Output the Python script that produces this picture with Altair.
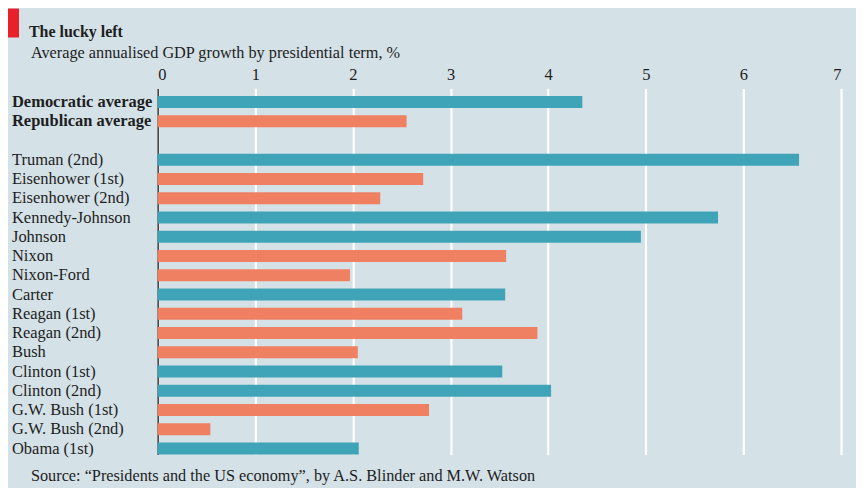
import altair as alt
import pandas as pd

title_text = "The lucky left"
subtitle_text = "Average annualised GDP growth by presidential term, %"
source_text = "Source: \u201cPresidents and the US economy\u201d, by A.S. Blinder and M.W. Watson"

categories = ["Democratic average", "Republican average", "Truman (2nd)", "Eisenhower (1st)",
              "Eisenhower (2nd)", "Kennedy-Johnson", "Johnson", "Nixon", "Nixon-Ford", "Carter",
              "Reagan (1st)", "Reagan (2nd)", "Bush", "Clinton (1st)", "Clinton (2nd)",
              "G.W. Bush (1st)", "G.W. Bush (2nd)", "Obama (1st)"]
growth = [4.35, 2.55, 6.57, 2.72, 2.28, 5.74, 4.95, 3.57, 1.97, 3.56, 3.12, 3.89, 2.05,
          3.53, 4.03, 2.78, 0.54, 2.06]
party = ["D", "R", "D", "R", "R", "D", "D", "R", "R", "D", "R", "R", "R", "D", "D", "R", "R", "D"]
ticks = [0, 1, 2, 3, 4, 5, 6, 7]

order = categories[:2] + [" "] + categories[2:]
is_avg = [True, True] + [False] * (len(categories) - 2)

df = pd.DataFrame({"name": categories, "growth": growth, "party": party, "avg": is_avg})

FONT = "Liberation Serif"
TEAL = "#40a4b8"
SALMON = "#f08062"
BG = "#d4e1e7"
INK = "#1e1e1e"

yscale = alt.Scale(domain=order, paddingInner=0.38, paddingOuter=0.2, align=1)

bars = alt.Chart(df).mark_bar().encode(
    x=alt.X("growth:Q", scale=alt.Scale(domain=[0, 7], nice=False),
            axis=alt.Axis(orient="top", values=ticks, title=None, labelFont=FONT,
                          labelFontSize=16.5, labelColor=INK, labelPadding=6,
                          domain=False, ticks=False, grid=True, gridColor="white",
                          gridWidth=2.2)),
    y=alt.Y("name:N", scale=yscale,
            axis=alt.Axis(labels=False, ticks=False, title=None, grid=False,
                          domain=True, domainColor="#333333", domainWidth=1.5)),
    color=alt.Color("party:N", scale=alt.Scale(domain=["D", "R"], range=[TEAL, SALMON]),
                    legend=None),
)

labels_bold = alt.Chart(df).transform_filter("datum.avg").mark_text(
    align="left", baseline="middle", font=FONT, fontSize=16.5, fontWeight="bold",
    color=INK).encode(
    x=alt.value(-146),
    y=alt.Y("name:N", scale=yscale),
    text="name:N",
)

labels_norm = alt.Chart(df).transform_filter("!datum.avg").mark_text(
    align="left", baseline="middle", font=FONT, fontSize=16.5, color=INK).encode(
    x=alt.value(-146),
    y=alt.Y("name:N", scale=yscale),
    text="name:N",
)

tdf = pd.DataFrame({"t": [title_text]})
title = alt.Chart(tdf).mark_text(align="left", baseline="alphabetic", font=FONT,
                                 fontSize=16, fontWeight="bold", color=INK).encode(
    x=alt.value(-129), y=alt.value(-51), text="t:N")

sdf = pd.DataFrame({"t": [subtitle_text]})
subtitle = alt.Chart(sdf).mark_text(align="left", baseline="alphabetic", font=FONT,
                                    fontSize=16.3, color=INK).encode(
    x=alt.value(-127), y=alt.value(-30), text="t:N")

srcdf = pd.DataFrame({"t": [source_text]})
source = alt.Chart(srcdf).mark_text(align="left", baseline="alphabetic", font=FONT,
                                    fontSize=16.3, color=INK).encode(
    x=alt.value(-127), y=alt.value(394), text="t:N")

rdf = pd.DataFrame({"k": [1]})
redbox = alt.Chart(rdf).mark_rect(color="#e8202a").encode(
    x=alt.value(-150), x2=alt.value(-139), y=alt.value(-80), y2=alt.value(-51))

chart = alt.layer(bars, labels_bold, labels_norm, title, subtitle, source, redbox).properties(
    width=685, height=367,
    padding={"left": 150, "top": 80, "right": 15, "bottom": 33},
    autosize=alt.AutoSizeParams(type="none"),
    background=BG,
).configure_view(stroke=None)

chart.save("out.html", embed_options={"renderer": "svg", "actions": False})
